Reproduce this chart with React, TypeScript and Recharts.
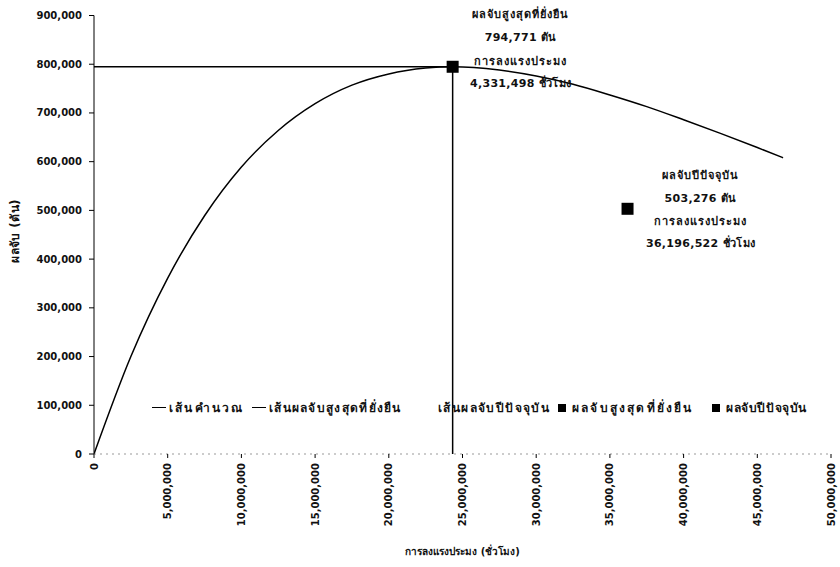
import React from 'react'
import { ComposedChart, Line, Scatter, XAxis, YAxis, Legend } from 'recharts'

// fishing effort (hours) vs catch (tons)
const effortHours = [
  0, 2500000, 5000000, 7500000, 10000000, 12500000, 15000000, 17500000, 20000000,
  22500000, 24331498, 27500000, 30000000, 32500000, 35000000, 37500000, 40000000,
  42500000, 45000000, 46750000,
]
const catchTons = [
  0, 200000, 361000, 489000, 589000, 664000, 719000, 757000, 780000,
  792000, 794771, 788000, 776000, 759000, 737000, 713000, 686000,
  658000, 629000, 608000,
]

const xTicks = [0, 5000000, 10000000, 15000000, 20000000, 25000000, 30000000, 35000000, 40000000, 45000000, 50000000]
const yTicks = [0, 100000, 200000, 300000, 400000, 500000, 600000, 700000, 800000, 900000]

const msyEffort = 24331498
const msyCatch = 794771
const currentEffort = 36196522
const currentCatch = 503276

const msyText = ['ผลจับสูงสุดที่ยั่งยืน', '794,771 ตัน', 'การลงแรงประมง', '4,331,498 ชั่วโมง']
const currentText = ['ผลจับปีปัจจุบัน', '503,276 ตัน', 'การลงแรงประมง', '36,196,522 ชั่วโมง']

const legendNames = ['เส้นคำนวณ', 'เส้นผลจับสูงสุดที่ยั่งยืน', 'เส้นผลจับปีปัจจุบัน', 'ผลจับสูงสุดที่ยั่งยืน', 'ผลจับปีปัจจุบัน']
const legendIcons = ['line', 'line', 'none', 'square', 'square']
const legendLeft = [0, 100, 286, 406, 560]
const legendSpacing = [2.2, 1.3, 1.4, 2.2, 0.6]

const xTitle = 'การลงแรงประมง (ชั่วโมง)'
const yTitle = 'ผลจับ (ตัน)'

const FONT = '"DejaVu Sans", "Noto Sans", sans-serif'
const THAI = { fontFamily: FONT, fontSize: 11, fontWeight: 'bold' as const, letterSpacing: 1 }

const fmt = (v: number) => v.toLocaleString('en-US')

const curveData = effortHours.map((x, i) => ({ x, y: catchTons[i] }))
const msyHorizontal = [{ x: 0, y: msyCatch }, { x: msyEffort, y: msyCatch }]
const msyVertical = [{ x: msyEffort, y: 0 }, { x: msyEffort, y: msyCatch }]
const msyPoint = [{ x: msyEffort, y: msyCatch }]
const currentPoint = [{ x: currentEffort, y: currentCatch }]

const makeShape = (lines: string[], dx: number, dys: number[]) => (props: any) => {
  const { cx, cy } = props
  return (
    <g>
      <rect x={cx - 6} y={cy - 6} width={12} height={12} fill="#000" />
      {lines.map((t, i) => (
        <text
          key={i}
          x={cx + dx}
          y={cy + dys[i]}
          textAnchor="middle"
          dominantBaseline="central"
          {...THAI}
          letterSpacing={i % 2 === 1 ? 0.3 : 1}
          fill="#111"
        >
          {t}
        </text>
      ))}
    </g>
  )
}

const XTick = ({ x, y, payload }: any) => (
  <text
    x={x}
    y={y}
    transform={`rotate(-90, ${x}, ${y})`}
    textAnchor="end"
    dy="0.35em"
    fontFamily={FONT}
    fontSize={10}
    fontWeight="bold"
    fill="#111"
  >
    {fmt(payload.value)}
  </text>
)

const LegendContent = () => (
  <div style={{ position: 'relative', height: 16, ...THAI, fontSize: 12, color: '#111', whiteSpace: 'nowrap' }}>
    {legendNames.map((name, i) => (
      <div key={i} style={{ position: 'absolute', left: legendLeft[i], top: 0, display: 'flex', alignItems: 'center', letterSpacing: legendSpacing[i] }}>
        {legendIcons[i] === 'line' && (
          <span style={{ display: 'inline-block', width: 14, height: 0, borderTop: '1.5px solid #000', marginRight: 3 }} />
        )}
        {legendIcons[i] === 'square' && (
          <span style={{ display: 'inline-block', width: 8, height: 8, background: '#000', marginRight: 6 }} />
        )}
        <span>{name}</span>
      </div>
    ))}
  </div>
)

export default function App() {
  return (
    <div style={{ position: 'absolute', left: 0, top: 0 }}>
      <ComposedChart
        width={840}
        height={567}
        margin={{ top: 15.5, right: 9, left: 34, bottom: 0 }}
      >
        <XAxis
          type="number"
          dataKey="x"
          domain={[0, 50000000]}
          ticks={xTicks}
          interval={0}
          height={113}
          stroke="#999"
          strokeDasharray="2 4"
          tickLine={{ stroke: '#000', strokeDasharray: 'none' }}
          tickSize={4}
          tickMargin={5}
          tick={<XTick />}
          allowDataOverflow
          label={{
            content: ({ viewBox }: any) => (
              <text
                x={viewBox.x + viewBox.width / 2}
                y={551}
                textAnchor="middle"
                dominantBaseline="central"
                {...THAI}
                fontSize={10}
                letterSpacing={0}
                fill="#111"
              >
                {xTitle}
              </text>
            ),
          }}
        />
        <YAxis
          type="number"
          dataKey="y"
          domain={[0, 900000]}
          ticks={yTicks}
          interval={0}
          width={60}
          stroke="#000"
          tickSize={5}
          tickMargin={7}
          tickFormatter={fmt}
          tick={{ fontFamily: FONT, fontSize: 10, fontWeight: 'bold', fill: '#111' }}
          label={{
            content: () => {
              const x = 15
              const y = 231
              return (
                <text
                  x={x}
                  y={y}
                  transform={`rotate(-90, ${x}, ${y})`}
                  textAnchor="middle"
                  dominantBaseline="central"
                  {...THAI}
                  fontSize={12}
                  letterSpacing={0.4}
                  fill="#111"
                >
                  {yTitle}
                </text>
              )
            },
          }}
        />
        <Legend
          layout="horizontal"
          verticalAlign="middle"
          align="center"
          content={<LegendContent />}
          wrapperStyle={{ top: 398, left: 152, width: 688 }}
        />
        <Line data={curveData} dataKey="y" type="monotone" stroke="#000" strokeWidth={1.5} dot={false} isAnimationActive={false} />
        <Line data={msyHorizontal} dataKey="y" stroke="#000" strokeWidth={1.5} dot={false} isAnimationActive={false} />
        <Line data={msyVertical} dataKey="y" stroke="#000" strokeWidth={1.5} dot={false} isAnimationActive={false} />
        <Scatter data={msyPoint} dataKey="y" shape={makeShape(msyText, 68, [-52, -29, -5, 17])} isAnimationActive={false} />
        <Scatter data={currentPoint} dataKey="y" shape={makeShape(currentText, 73, [-33, -10, 13, 35])} isAnimationActive={false} />
      </ComposedChart>
    </div>
  )
}
